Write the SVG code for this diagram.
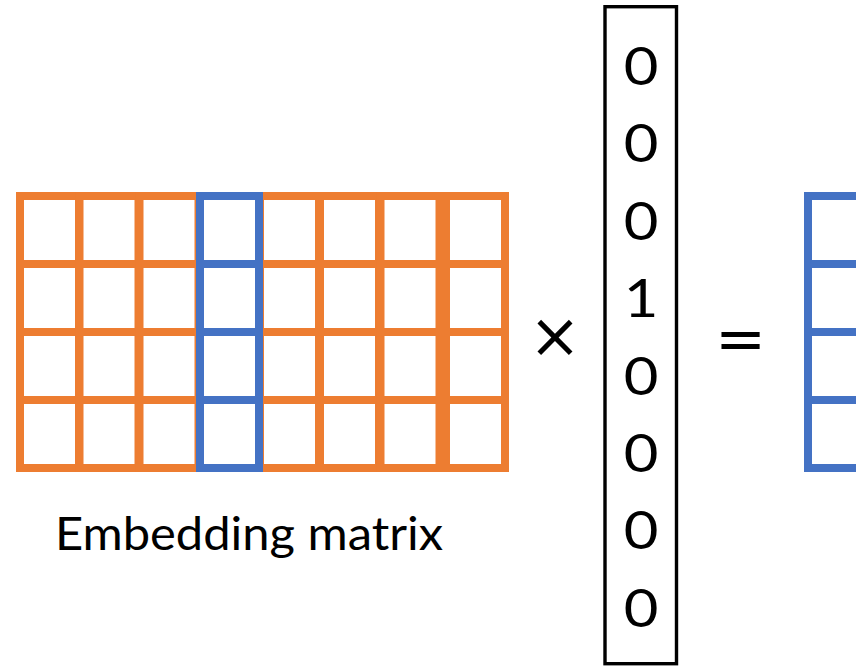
<svg xmlns="http://www.w3.org/2000/svg" width="856" height="667" viewBox="0 0 856 667">
  <style>
    .org { fill: none; stroke: #ED7D31; stroke-width: 8; }
    .blu { fill: none; stroke: #4472C4; stroke-width: 8; }
    .frame { fill: none; stroke: #000000; stroke-width: 3.4; }
    .digit { font-family: "Lato", "Liberation Sans", sans-serif; font-size: 52px; fill: #000000; text-anchor: middle; }
    .op { font-family: "DejaVu Sans", sans-serif; fill: #000000; text-anchor: middle; }
    .label { font-family: "Lato", "Liberation Sans", sans-serif; font-size: 46px; fill: #000000; }
  </style>
  <defs>
    <!-- one column of four cells, 60 wide, 68 tall each -->
    <g id="col-orange">
      <rect class="org" x="0" y="196" width="59" height="68"/>
      <rect class="org" x="0" y="264" width="59" height="68"/>
      <rect class="org" x="0" y="332" width="59" height="68"/>
      <rect class="org" x="0" y="400" width="59" height="68"/>
    </g>
    <g id="col-blue">
      <rect class="blu" x="0" y="196" width="59" height="68"/>
      <rect class="blu" x="0" y="264" width="59" height="68"/>
      <rect class="blu" x="0" y="332" width="59" height="68"/>
      <rect class="blu" x="0" y="400" width="59" height="68"/>
    </g>
  </defs>

  <!-- embedding matrix: 8 columns, the 4th one highlighted -->
  <g id="embedding-matrix">
    <use href="#col-orange" x="20"/>
    <use href="#col-orange" x="79.5"/>
    <use href="#col-orange" x="139.5"/>
    <use href="#col-orange" x="260"/>
    <use href="#col-orange" x="320"/>
    <use href="#col-orange" x="380.5"/>
    <use href="#col-orange" x="446"/>
    <use href="#col-blue" x="200"/>
  </g>

  <g id="embedding-label">
    <text class="label" x="55" y="550" textLength="388" lengthAdjust="spacingAndGlyphs">Embedding matrix</text>
  </g>

  <!-- multiplication sign -->
  <g id="times">
    <text class="op" x="555" y="357" font-size="62">×</text>
  </g>

  <!-- one-hot vector -->
  <g id="one-hot-vector">
    <rect class="frame" x="605" y="6.7" width="71.5" height="657"/>
    <g transform="translate(641,0) scale(1.15,1)">
      <text class="digit" x="0" y="85">0</text>
      <text class="digit" x="0" y="162.4">0</text>
      <text class="digit" x="0" y="239.8">0</text>
      <text class="digit" x="0" y="317.2">1</text>
      <text class="digit" x="0" y="394.6">0</text>
      <text class="digit" x="0" y="472">0</text>
      <text class="digit" x="0" y="549.4">0</text>
      <text class="digit" x="0" y="626.8">0</text>
    </g>
  </g>

  <!-- equals sign -->
  <g id="equals">
    <text class="op" x="740.5" y="359" font-size="61">=</text>
  </g>

  <!-- resulting embedding vector -->
  <g id="result-vector">
    <use href="#col-blue" x="808"/>
  </g>
</svg>
